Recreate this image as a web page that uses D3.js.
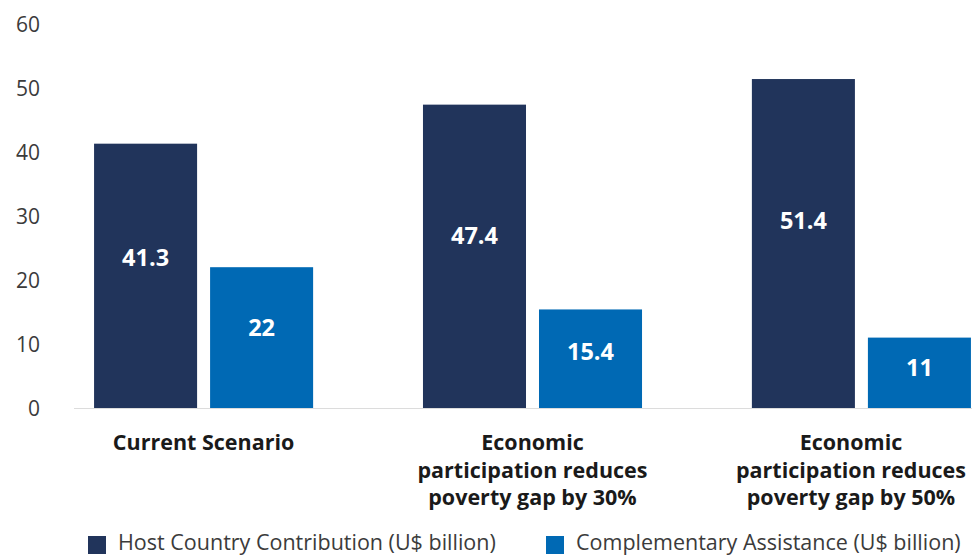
<!DOCTYPE html>
<html>
<head>
<meta charset="utf-8">
<script src="https://cdn.jsdelivr.net/npm/d3@7"></script>
<style>
  html, body { margin: 0; padding: 0; background: #fff; }
  svg { display: block; font-family: "Open Sans", Lato, sans-serif; }
</style>
</head>
<body>
<svg id="chart" width="972" height="556"></svg>
<script>
// Scenario categories (each label line separated by "\n")
const categories = [
  "Current Scenario",
  "Economic\nparticipation reduces\npoverty gap by 30%",
  "Economic\nparticipation reduces\npoverty gap by 50%"
];
const seriesNames = [
  "Host Country Contribution (U$ billion)",
  "Complementary Assistance (U$ billion)"
];
const hostContribution = [41.3, 47.4, 51.4];
const complementaryAssistance = [22, 15.4, 11];
const yTicks = [0, 10, 20, 30, 40, 50, 60];

const colors = ["#21345b", "#0069b4"];

const svg = d3.select("#chart");
const W = 972, H = 556;
const baseY = 408, topY = 24;

const y = d3.scaleLinear().domain([0, 60]).range([baseY, topY]);

const x = d3.scaleBand()
  .domain(categories)
  .range([74, 991])
  .paddingInner(0.334)
  .paddingOuter(0.061);

const xs = d3.scaleBand()
  .domain(seriesNames)
  .range([0, x.bandwidth()])
  .paddingInner(0.112)
  .paddingOuter(0);

const color = d3.scaleOrdinal().domain(seriesNames).range(colors);

const rows = categories.map((c, i) => ({
  category: c,
  values: [
    { key: seriesNames[0], value: hostContribution[i] },
    { key: seriesNames[1], value: complementaryAssistance[i] }
  ]
}));

// baseline
svg.append("line")
  .attr("x1", 74).attr("x2", W)
  .attr("y1", y(0) + 0.5).attr("y2", y(0) + 0.5)
  .attr("stroke", "#dcdcdc").attr("stroke-width", 1.2);

// y axis labels
const yAxis = svg.append("g")
  .attr("transform", "translate(40,0)")
  .call(d3.axisLeft(y).tickValues(yTicks).tickSize(0).tickPadding(0).tickFormat(d3.format("d")));
yAxis.select(".domain").remove();
yAxis.selectAll("text")
  .attr("font-family", "'Open Sans', sans-serif")
  .attr("font-size", 21)
  .attr("fill", "#3b3b3b")
  .attr("dy", "0.36em");

// bars
const groups = svg.append("g").selectAll("g")
  .data(rows)
  .join("g")
  .attr("transform", d => `translate(${x(d.category)},0)`);

groups.selectAll("rect")
  .data(d => d.values)
  .join("rect")
  .attr("x", d => xs(d.key))
  .attr("width", xs.bandwidth())
  .attr("y", d => y(d.value))
  .attr("height", d => y(0) - y(d.value))
  .attr("fill", d => color(d.key));

// value labels, a little above the middle of each bar
groups.selectAll("text.value")
  .data(d => d.values)
  .join("text")
  .attr("class", "value")
  .attr("x", d => xs(d.key) + xs.bandwidth() / 2)
  .attr("y", d => y(d.value * 0.57))
  .attr("dy", "0.36em")
  .attr("text-anchor", "middle")
  .attr("font-size", 23.5)
  .attr("font-weight", 700)
  .attr("fill", "#fff")
  .text(d => d3.format("~g")(d.value));

// category labels, centred under each group but kept inside the frame
const catLabels = svg.append("g").selectAll("text")
  .data(categories)
  .join("text")
  .attr("x", 0)
  .attr("y", 450)
  .attr("text-anchor", "middle")
  .attr("font-size", 21.5)
  .attr("font-weight", 700)
  .attr("fill", "#1a1a1a");
catLabels.selectAll("tspan")
  .data(d => d.split("\n"))
  .join("tspan")
  .attr("x", 0)
  .attr("dy", (d, i) => i === 0 ? 0 : 27.5)
  .text(d => d);
catLabels.attr("transform", function (d) {
  const w = this.getBBox().width;
  let cx = x(d) + x.bandwidth() / 2;
  cx = Math.min(cx, W - 6 - w / 2);
  return `translate(${cx},0)`;
});

// legend
const legendX = [88, 546];
const legend = svg.append("g").selectAll("g")
  .data(seriesNames)
  .join("g")
  .attr("transform", (d, i) => `translate(${legendX[i]},536)`);
legend.append("rect")
  .attr("width", 18).attr("height", 18)
  .attr("fill", d => color(d));
legend.append("text")
  .attr("x", 30)
  .attr("y", 14)
  .attr("font-size", 21.5)
  .attr("fill", "#3b3b3b")
  .text(d => d);
</script>
</body>
</html>
